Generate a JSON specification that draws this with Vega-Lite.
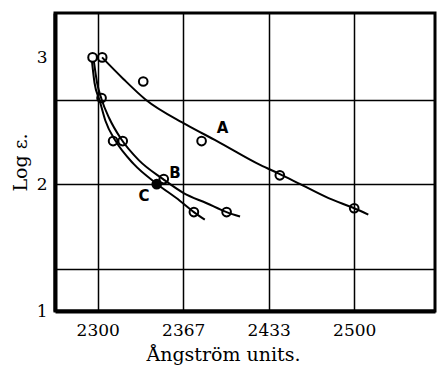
{
  "$schema": "https://vega.github.io/schema/vega-lite/v6.json",
  "width": 380,
  "height": 298,
  "autosize": {"type": "none"},
  "padding": {"left": 55, "top": 13, "right": 3, "bottom": 58},
  "background": "white",
  "config": {
    "view": {"stroke": "black", "strokeWidth": 3},
    "axis": {"labelColor": "black", "titleColor": "black"}
  },
  "datasets": {
    "curves": [
      {"curve": "A", "x": 2303.4, "y": 3.0},
      {"curve": "A", "x": 2320, "y": 2.83},
      {"curve": "A", "x": 2337, "y": 2.67},
      {"curve": "A", "x": 2369, "y": 2.47},
      {"curve": "A", "x": 2393, "y": 2.34},
      {"curve": "A", "x": 2427, "y": 2.15},
      {"curve": "A", "x": 2442, "y": 2.08},
      {"curve": "A", "x": 2458, "y": 2.0},
      {"curve": "A", "x": 2480, "y": 1.89},
      {"curve": "A", "x": 2500, "y": 1.81},
      {"curve": "A", "x": 2511, "y": 1.76},
      {"curve": "B", "x": 2297, "y": 2.97},
      {"curve": "B", "x": 2299.5, "y": 2.8},
      {"curve": "B", "x": 2303, "y": 2.67},
      {"curve": "B", "x": 2309, "y": 2.52},
      {"curve": "B", "x": 2318, "y": 2.36},
      {"curve": "B", "x": 2332, "y": 2.19},
      {"curve": "B", "x": 2351, "y": 2.04},
      {"curve": "B", "x": 2367, "y": 1.93},
      {"curve": "B", "x": 2385, "y": 1.85},
      {"curve": "B", "x": 2400.5, "y": 1.78},
      {"curve": "B", "x": 2411, "y": 1.745},
      {"curve": "C", "x": 2295.5, "y": 2.97},
      {"curve": "C", "x": 2297.5, "y": 2.8},
      {"curve": "C", "x": 2301.5, "y": 2.66},
      {"curve": "C", "x": 2306, "y": 2.5},
      {"curve": "C", "x": 2314, "y": 2.34},
      {"curve": "C", "x": 2328, "y": 2.16},
      {"curve": "C", "x": 2346.5, "y": 2.0},
      {"curve": "C", "x": 2364, "y": 1.87},
      {"curve": "C", "x": 2375, "y": 1.78},
      {"curve": "C", "x": 2383.5, "y": 1.72}
    ],
    "points": [
      {"x": 2296, "y": 3.0, "kind": "open"},
      {"x": 2303.5, "y": 3.0, "kind": "open"},
      {"x": 2335.5, "y": 2.81, "kind": "open"},
      {"x": 2303, "y": 2.68, "kind": "open"},
      {"x": 2312, "y": 2.34, "kind": "open"},
      {"x": 2319.5, "y": 2.34, "kind": "open"},
      {"x": 2381, "y": 2.34, "kind": "open"},
      {"x": 2346, "y": 2.0, "kind": "solid"},
      {"x": 2351.5, "y": 2.04, "kind": "open"},
      {"x": 2375, "y": 1.78, "kind": "open"},
      {"x": 2400.5, "y": 1.78, "kind": "open"},
      {"x": 2442, "y": 2.07, "kind": "open"},
      {"x": 2500, "y": 1.81, "kind": "open"}
    ],
    "labels": [
      {"label": "A", "x": 2397.4, "y": 2.44},
      {"label": "B", "x": 2360.2, "y": 2.09},
      {"label": "C", "x": 2336, "y": 1.91}
    ]
  },
  "encoding": {
    "x": {
      "field": "x", "type": "quantitative",
      "scale": {"domain": [2266.7, 2563], "nice": false, "zero": false},
      "axis": {
        "values": [2300, 2366.667, 2433.333, 2500],
        "format": ".0f",
        "grid": true, "gridColor": "black", "gridWidth": 1.5, "gridOpacity": 1,
        "ticks": false,
        "domainColor": "black", "domainWidth": 4,
        "labelFont": "DejaVu Serif", "labelFontSize": 17, "labelPadding": 11,
        "title": "Ångström units.",
        "titleFont": "DejaVu Serif", "titleFontSize": 19, "titleFontWeight": "normal",
        "titleX": 168, "titleY": 49, "titleBaseline": "alphabetic", "titleAlign": "center"
      }
    },
    "y": {
      "field": "y", "type": "quantitative",
      "scale": {"domain": [1, 3.35], "nice": false, "zero": false},
      "axis": {
        "values": [1, 1.3333, 2, 2.6667, 3],
        "labelExpr": "abs(datum.value - round(datum.value)) < 0.01 ? format(datum.value, 'd') : ''",
        "grid": true, "gridColor": "black", "gridWidth": 1.5,
        "gridOpacity": {"condition": {"test": "abs(datum.value - round(datum.value)) < 0.01 && datum.value != 2", "value": 0}, "value": 1},
        "ticks": false,
        "domainColor": "black", "domainWidth": 4,
        "labelFont": "DejaVu Serif", "labelFontSize": 17, "labelPadding": 8,
        "title": "Log ε.",
        "titleFont": "DejaVu Serif", "titleFontSize": 19, "titleFontWeight": "normal",
        "titlePadding": 6
      }
    }
  },
  "layer": [
    {
      "data": {"name": "curves"},
      "mark": {"type": "line", "interpolate": "monotone", "color": "black", "strokeWidth": 2},
      "encoding": {
        "detail": {"field": "curve"}
      }
    },
    {
      "data": {"name": "points"},
      "mark": {"type": "point", "shape": "circle", "size": 75, "strokeWidth": 2, "stroke": "black", "opacity": 1},
      "encoding": {
        "fill": {
          "field": "kind", "type": "nominal",
          "scale": {"domain": ["open", "solid"], "range": ["rgba(0,0,0,0)", "black"]},
          "legend": null
        }
      }
    },
    {
      "data": {"name": "labels"},
      "mark": {"type": "text", "font": "DejaVu Sans", "fontSize": 15, "fontWeight": "bold", "color": "black", "align": "center", "baseline": "middle"},
      "encoding": {
        "text": {"field": "label"}
      }
    }
  ]
}
